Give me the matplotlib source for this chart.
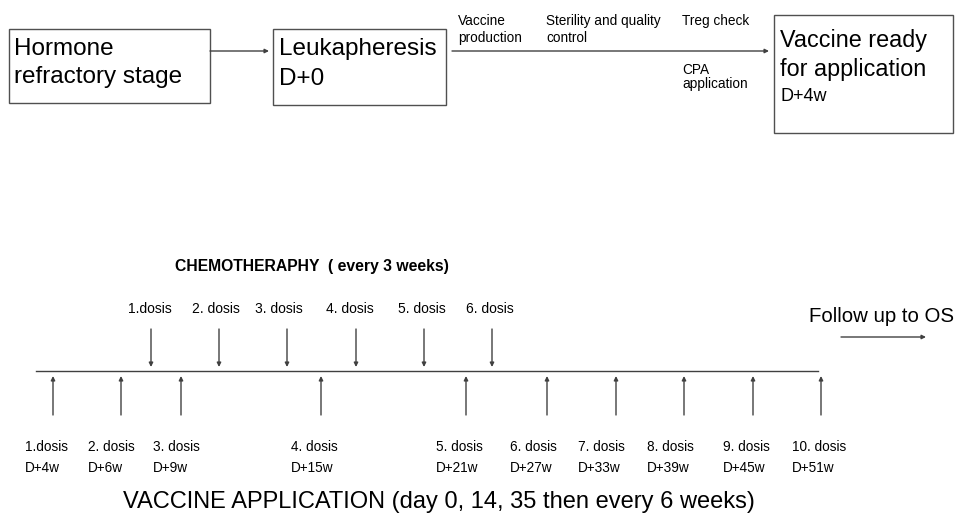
import matplotlib.pyplot as plt
from matplotlib.patches import Rectangle

plt.rcParams['font.family'] = ['Liberation Sans', 'DejaVu Sans']

# timeline data (schematic x positions in figure pixels)
chemo_labels = ["1.dosis", "2. dosis", "3. dosis", "4. dosis", "5. dosis", "6. dosis"]
chemo_pos = [151, 219, 287, 356, 424, 492]
chemo_label_pos = [150, 216, 279, 350, 422, 490]

vacc_labels = ["1.dosis", "2. dosis", "3. dosis", "4. dosis", "5. dosis",
               "6. dosis", "7. dosis", "8. dosis", "9. dosis", "10. dosis"]
vacc_weeks = [4, 6, 9, 15, 21, 27, 33, 39, 45, 51]
vacc_pos = [53, 121, 181, 321, 466, 547, 616, 684, 753, 821]
vacc_label_pos = [25, 88, 153, 291, 436, 510, 578, 647, 723, 792]

line_col = '#404040'
box_col = '#505050'

fig = plt.figure(figsize=(9.6, 5.25), dpi=100)
ax = fig.add_axes([0, 0, 1, 1])
ax.set_xlim(0, 960)
ax.set_ylim(525, 0)
ax.axis('off')


def arrow(x0, y0, x1, y1):
    ax.annotate('', xy=(x1, y1), xytext=(x0, y0),
                arrowprops=dict(arrowstyle='-|>', color=line_col, lw=1,
                                mutation_scale=6, shrinkA=0, shrinkB=0))


# top flow
for x, y, w, h in [(9, 29, 201, 74), (273, 29, 173, 76), (774, 15, 179, 118)]:
    ax.add_patch(Rectangle((x, y), w, h, fill=False, ec=box_col, lw=1))

ax.text(14, 55, "Hormone", fontsize=17.5, va='baseline')
ax.text(14, 83, "refractory stage", fontsize=17.5, va='baseline')
ax.text(279, 55, "Leukapheresis", fontsize=17.5, va='baseline')
ax.text(279, 85, "D+0", fontsize=17.5, va='baseline')
ax.text(780, 47, "Vaccine ready", fontsize=16.8, va='baseline')
ax.text(780, 76, "for application", fontsize=16.8, va='baseline')
ax.text(780, 101, "D+4w", fontsize=13, va='baseline')

arrow(210, 51, 269, 51)
arrow(452, 51, 769, 51)

ax.text(458, 25, "Vaccine", fontsize=9.8, va='baseline')
ax.text(458, 42, "production", fontsize=9.8, va='baseline')
ax.text(546, 25, "Sterility and quality", fontsize=9.8, va='baseline')
ax.text(546, 42, "control", fontsize=9.8, va='baseline')
ax.text(682, 25, "Treg check", fontsize=9.8, va='baseline')
ax.text(682, 74, "CPA", fontsize=9.8, va='baseline')
ax.text(682, 88, "application", fontsize=9.8, va='baseline')

# chemotherapy
ax.text(175, 271, "CHEMOTHERAPHY  ( every 3 weeks)", fontsize=11.3,
        fontweight='bold', va='baseline')
ax.plot([36, 818], [371, 371], color=line_col, lw=1)
for lab, x, lx in zip(chemo_labels, chemo_pos, chemo_label_pos):
    ax.text(lx, 313, lab, fontsize=10, ha='center', va='baseline')
    arrow(x, 329, x, 367)

# vaccine applications
for lab, wk, x, lx in zip(vacc_labels, vacc_weeks, vacc_pos, vacc_label_pos):
    arrow(x, 415, x, 376)
    ax.text(lx, 451, lab, fontsize=9.8, va='baseline')
    ax.text(lx, 472, "D+%dw" % wk, fontsize=9.8, va='baseline')

ax.text(809, 322, "Follow up to OS", fontsize=14.7, va='baseline')
arrow(841, 337, 926, 337)

ax.text(123, 508, "VACCINE APPLICATION (day 0, 14, 35 then every 6 weeks)",
        fontsize=17, va='baseline')

fig.savefig('out.png', dpi=100)
